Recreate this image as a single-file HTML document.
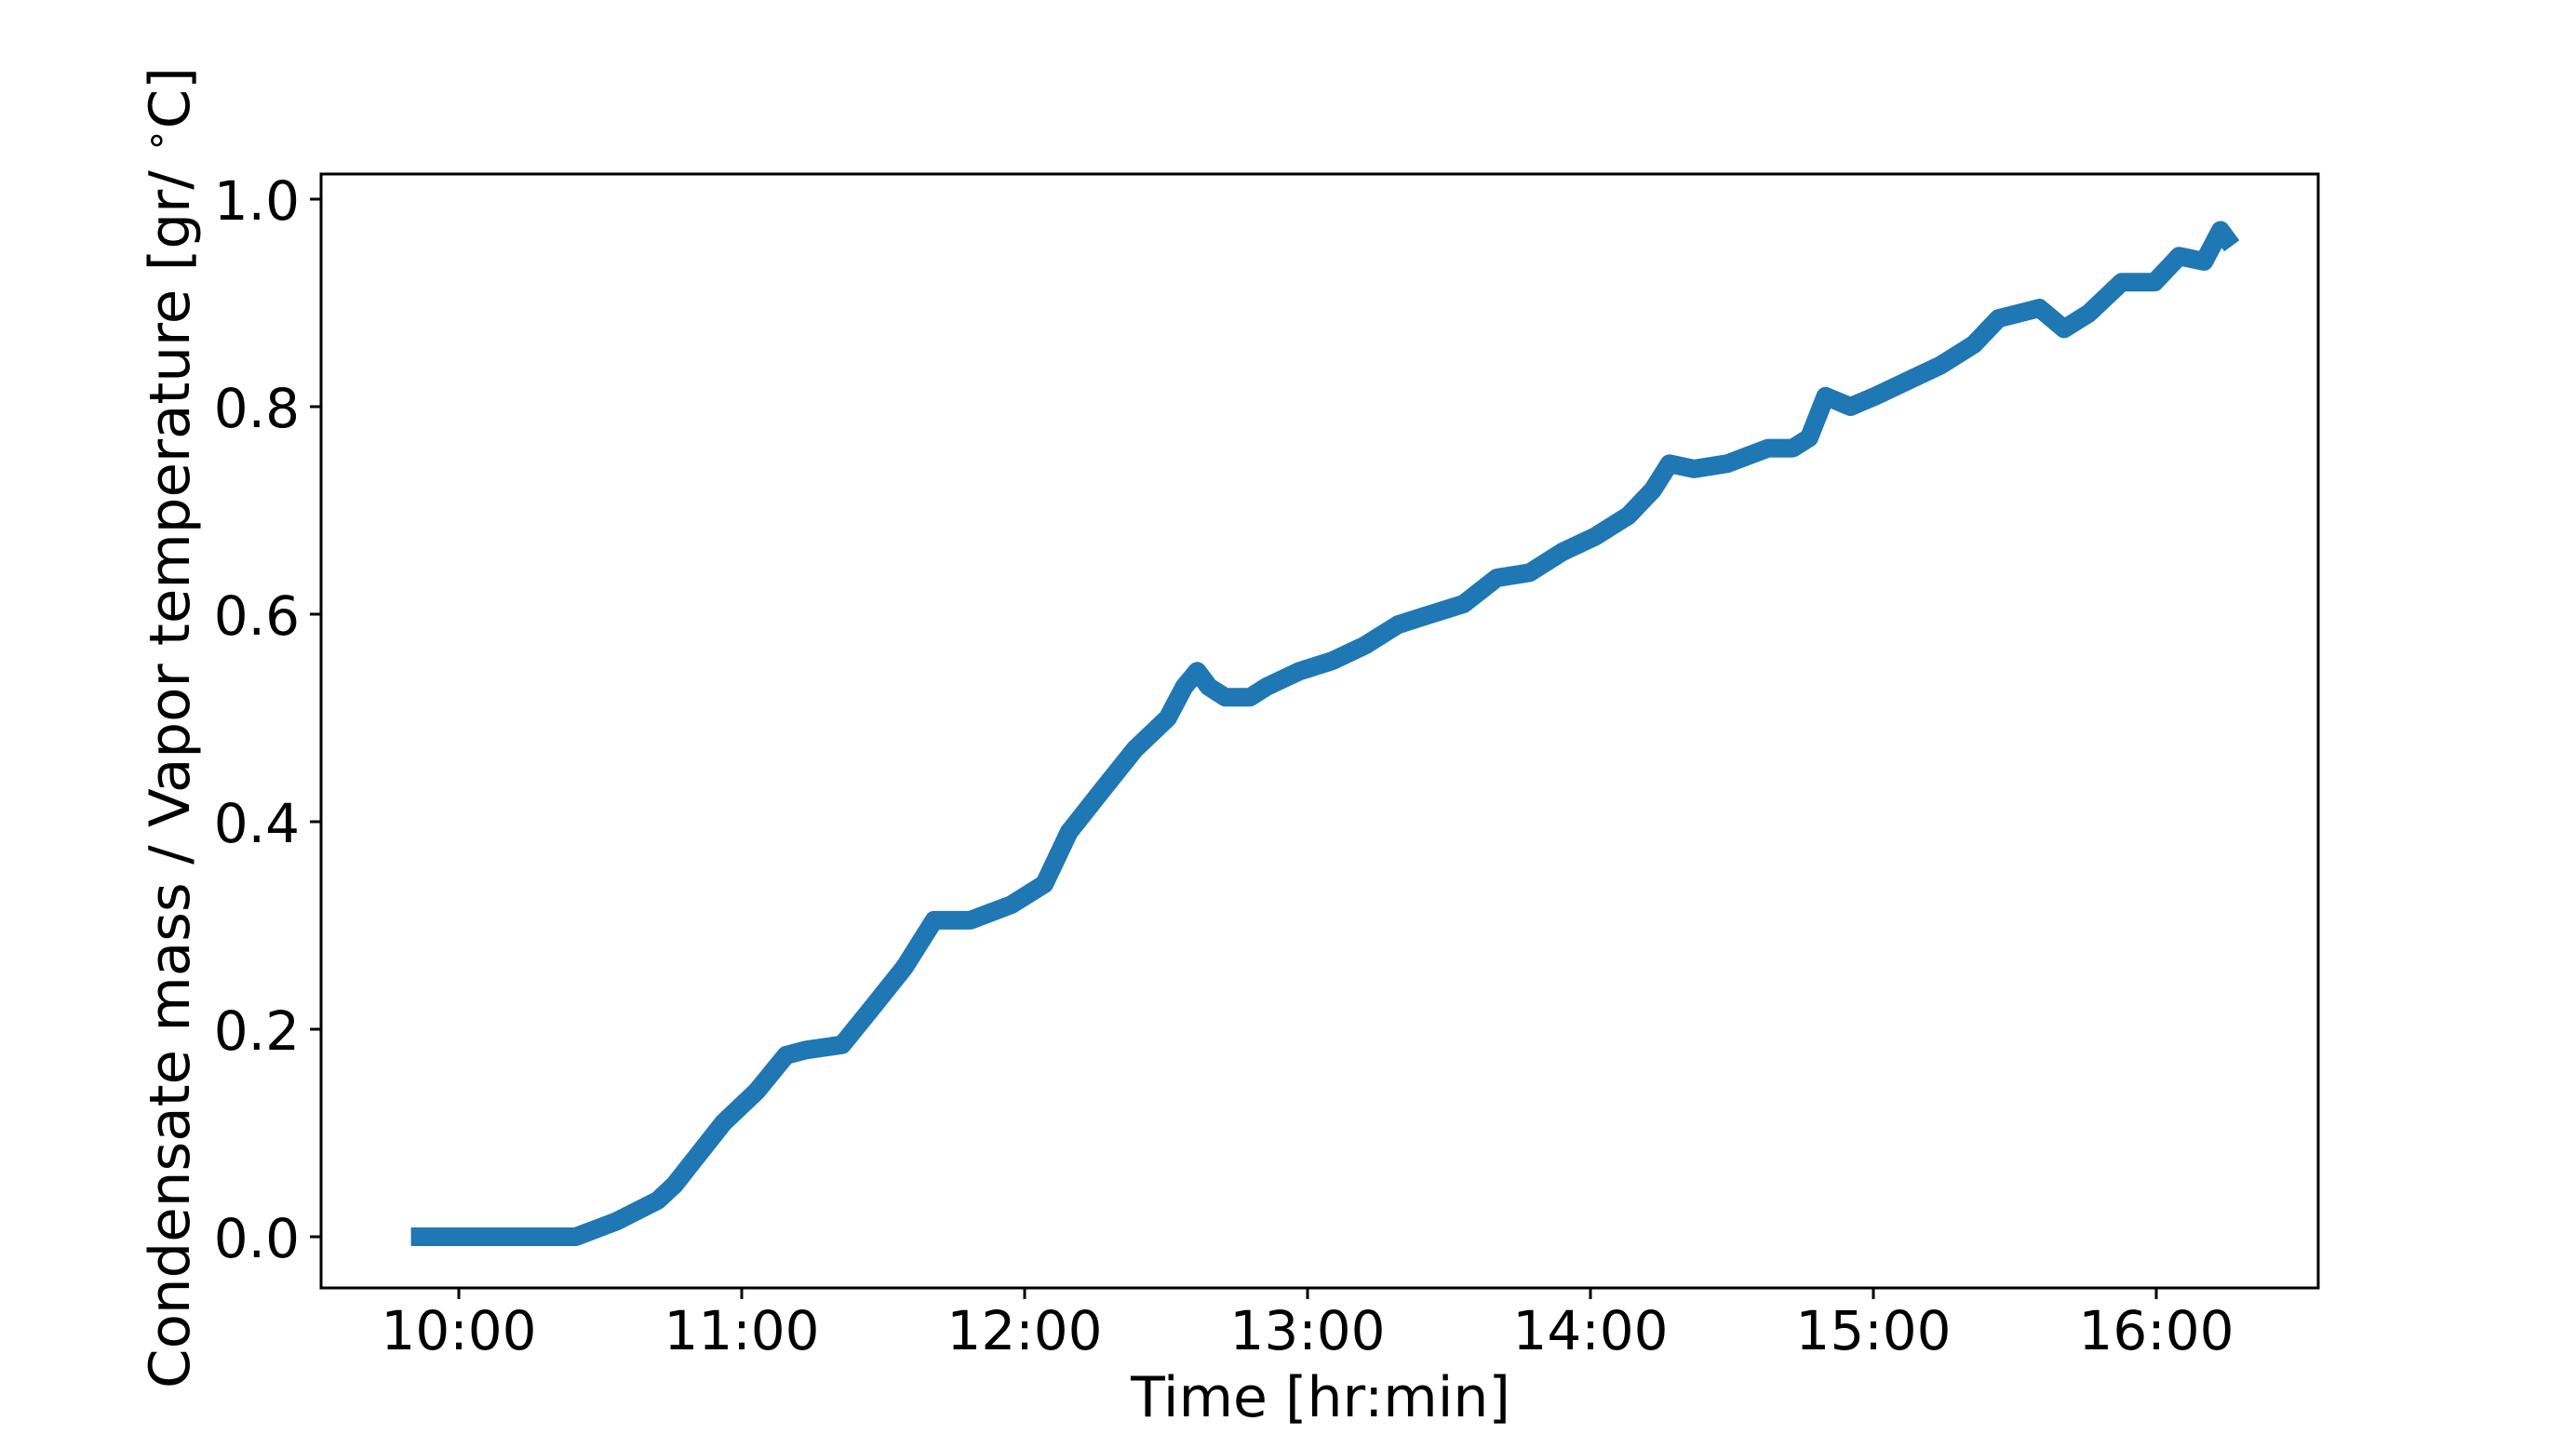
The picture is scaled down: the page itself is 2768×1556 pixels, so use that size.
<!DOCTYPE html>
<html><head><meta charset="utf-8"><style>
html,body{margin:0;padding:0;background:#fff}
svg{display:block}
text{font-family:"DejaVu Sans","Liberation Sans",sans-serif;fill:#000}
</style></head><body>
<svg id="chart" width="2768" height="1556" viewBox="0 0 2768 1556" xmlns="http://www.w3.org/2000/svg">
<rect x="0" y="0" width="2768" height="1556" fill="#fff"/>
<g id="plot"></g>
<rect x="345" y="187" width="2146" height="1197" fill="none" stroke="#000" stroke-width="3"/>
<g id="xticks"></g><g id="yticks"></g>
<text x="1419" y="1522" font-size="60" text-anchor="middle">Time [hr:min]</text>
<text transform="translate(203,782) rotate(-90)" font-size="60" text-anchor="middle" textLength="1420" lengthAdjust="spacingAndGlyphs">Condensate mass / Vapor temperature [gr/ <tspan font-size="40" dy="-22">∘</tspan><tspan dy="22">C]</tspan></text>
</svg>
<script>
const times = [9.831,10.413,10.558,10.703,10.762,10.936,11.052,11.157,11.227,11.355,11.459,11.576,11.680,11.808,11.953,12.070,12.157,12.273,12.390,12.506,12.564,12.610,12.651,12.709,12.797,12.855,12.971,13.087,13.203,13.320,13.436,13.552,13.669,13.785,13.901,14.017,14.134,14.221,14.279,14.366,14.483,14.628,14.715,14.773,14.831,14.919,15.006,15.122,15.238,15.355,15.442,15.587,15.674,15.762,15.878,15.994,16.081,16.169,16.227,16.267];
const values = [0,0,0.015,0.035,0.05,0.11,0.14,0.175,0.18,0.185,0.22,0.26,0.305,0.305,0.32,0.34,0.39,0.43,0.47,0.5,0.53,0.545,0.53,0.52,0.52,0.53,0.545,0.555,0.57,0.59,0.6,0.61,0.635,0.64,0.66,0.675,0.695,0.72,0.745,0.74,0.745,0.76,0.76,0.77,0.81,0.8,0.81,0.825,0.84,0.86,0.885,0.895,0.875,0.89,0.92,0.92,0.945,0.94,0.97,0.955];
const xTickHours = [10,11,12,13,14,15,16];
const xTickLabels = ["10:00","11:00","12:00","13:00","14:00","15:00","16:00"];
const yTickValues = [0,0.2,0.4,0.6,0.8,1.0];
const yTickLabels = ["0.0","0.2","0.4","0.6","0.8","1.0"];

const NS="http://www.w3.org/2000/svg";
function xs(h){return 493+(h-10)*304;}
function ys(v){return 1329-v*1115;}
const plot=document.getElementById('plot');
const line=document.createElementNS(NS,'polyline');
line.setAttribute('points',times.map((t,i)=>xs(t).toFixed(1)+','+ys(values[i]).toFixed(1)).join(' '));
line.setAttribute('fill','none');line.setAttribute('stroke','#1f77b4');
line.setAttribute('stroke-width','20');line.setAttribute('stroke-linejoin','round');


plot.appendChild(line);

const xg=document.getElementById('xticks');
xTickHours.forEach((h,i)=>{
  const l=document.createElementNS(NS,'line');
  l.setAttribute('x1',xs(h));l.setAttribute('x2',xs(h));l.setAttribute('y1',1384);l.setAttribute('y2',1396);
  l.setAttribute('stroke','#000');l.setAttribute('stroke-width','3');
  
  
  xg.appendChild(l);
  const t=document.createElementNS(NS,'text');
  t.setAttribute('x',xs(h));t.setAttribute('y',1450);t.setAttribute('font-size','58');t.setAttribute('text-anchor','middle');
  t.textContent=xTickLabels[i];
  
  
  xg.appendChild(t);
});
const yg=document.getElementById('yticks');
yTickValues.forEach((v,i)=>{
  const l=document.createElementNS(NS,'line');
  l.setAttribute('x1',333);l.setAttribute('x2',345);l.setAttribute('y1',ys(v));l.setAttribute('y2',ys(v));
  l.setAttribute('stroke','#000');l.setAttribute('stroke-width','3');
  
  
  yg.appendChild(l);
  const t=document.createElementNS(NS,'text');
  t.setAttribute('x',322);t.setAttribute('y',ys(v)+22);t.setAttribute('font-size','58');t.setAttribute('text-anchor','end');
  t.textContent=yTickLabels[i];
  
  
  yg.appendChild(t);
});
</script>
</body></html>
